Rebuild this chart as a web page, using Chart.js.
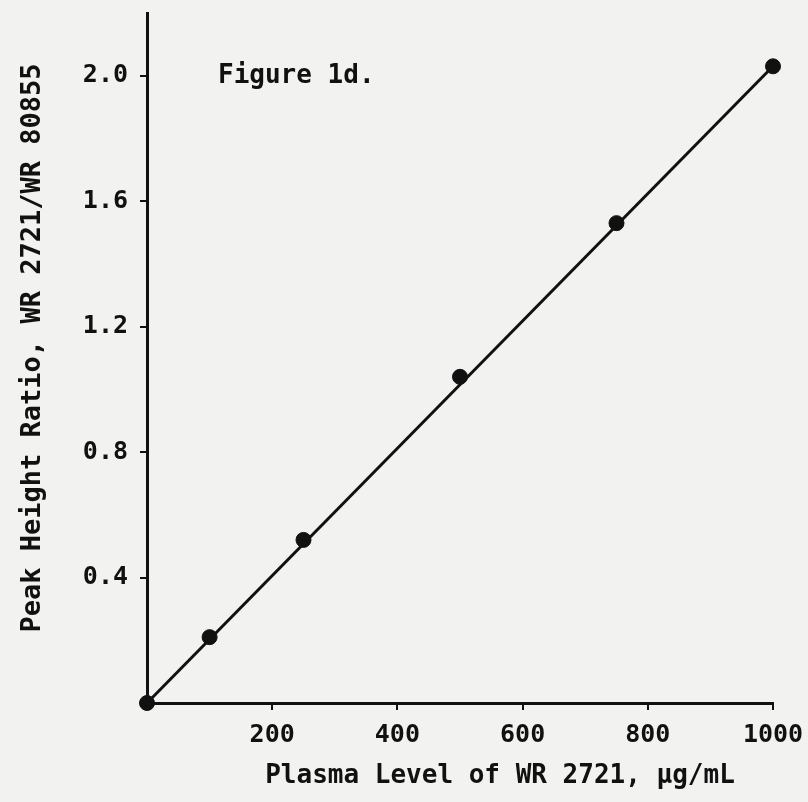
<!DOCTYPE html>
<html lang="en">
<head>
<meta charset="UTF-8">
<title>Figure 1d</title>
<script src="https://cdn.jsdelivr.net/npm/chart.js"></script>
<style>
  html, body { margin: 0; padding: 0; background: #f2f2f0; }
  #chart { display: block; }
</style>
</head>
<body>
<canvas id="chart" width="808" height="802"></canvas>
<script>
// Data
const plasmaLevels = [0, 100, 250, 500, 750, 1000];      // µg/mL
const peakRatios   = [0, 0.21, 0.52, 1.04, 1.53, 2.03];  // WR 2721 / WR 80855
const fitLevels    = [0, 1000];
const fitRatios    = [0, 2.03];
const xTicks = [200, 400, 600, 800, 1000];
const yTicks = [0.4, 0.8, 1.2, 1.6, 2.0];

const xTitle = 'Plasma Level of WR 2721, \u00b5g/mL';
const yTitle = 'Peak Height Ratio, WR 2721/WR 80855';
const figLabel = 'Figure 1d.';

const FONT = '"DejaVu Sans Mono", "Liberation Mono", monospace';
const INK = '#111';

// background + titles drawn on the canvas
const paperPlugin = {
  id: 'paper',
  beforeDraw(chart) {
    const ctx = chart.ctx;
    ctx.save();
    ctx.fillStyle = '#f2f2f0';
    ctx.fillRect(0, 0, chart.width, chart.height);
    ctx.restore();
  },
  afterDraw(chart) {
    const ctx = chart.ctx;
    ctx.save();
    ctx.fillStyle = INK;
    ctx.font = 'bold 26px ' + FONT;
    ctx.textBaseline = 'middle';
    ctx.textAlign = 'center';
    ctx.fillText(xTitle, 500, 776);
    ctx.textAlign = 'left';
    ctx.font = 'bold 26px ' + FONT;
    ctx.fillText(figLabel, 218, 76);
    ctx.translate(33, 348);
    ctx.rotate(-Math.PI / 2);
    ctx.textAlign = 'center';
    ctx.font = 'bold 27px ' + FONT;
    ctx.fillText(yTitle, 0, 0);
    ctx.restore();
  }
};

new Chart(document.getElementById('chart'), {
  type: 'scatter',
  data: {
    datasets: [
      {
        label: 'fit',
        data: fitLevels.map((x, i) => ({ x: x, y: fitRatios[i] })),
        showLine: true,
        borderColor: INK,
        borderWidth: 3,
        pointRadius: 0,
        clip: false
      },
      {
        label: 'measured',
        data: plasmaLevels.map((x, i) => ({ x: x, y: peakRatios[i] })),
        backgroundColor: INK,
        borderColor: INK,
        pointRadius: 7.5,
        clip: false
      }
    ]
  },
  options: {
    responsive: false,
    animation: false,
    layout: { padding: { top: 13, right: 35, left: 0, bottom: 0 } },
    plugins: {
      legend: { display: false },
      tooltip: { enabled: false }
    },
    scales: {
      x: {
        type: 'linear',
        min: 0,
        max: 1000,
        afterBuildTicks: s => { s.ticks = xTicks.map(v => ({ value: v })); },
        afterFit: s => { s.height = 99; s.paddingLeft = 0; s.paddingRight = 0; },
        border: { display: true, color: INK, width: 3 },
        grid: { drawOnChartArea: false, drawTicks: true, tickLength: 7, color: INK, lineWidth: 2 },
        ticks: {
          color: INK,
          padding: 10,
          maxRotation: 0,
          font: { family: FONT, size: 25, weight: 'bold' },
          callback: v => String(v)
        }
      },
      y: {
        type: 'linear',
        min: 0,
        max: 2.2,
        afterBuildTicks: s => { s.ticks = yTicks.map(v => ({ value: v })); },
        afterFit: s => { s.width = 147; s.paddingTop = 0; s.paddingBottom = 0; },
        border: { display: true, color: INK, width: 3 },
        grid: { drawOnChartArea: false, drawTicks: true, tickLength: 7, color: INK, lineWidth: 2 },
        ticks: {
          color: INK,
          padding: 12,
          font: { family: FONT, size: 25, weight: 'bold' },
          callback: v => v.toFixed(1)
        }
      }
    }
  },
  plugins: [paperPlugin]
});
</script>
</body>
</html>
